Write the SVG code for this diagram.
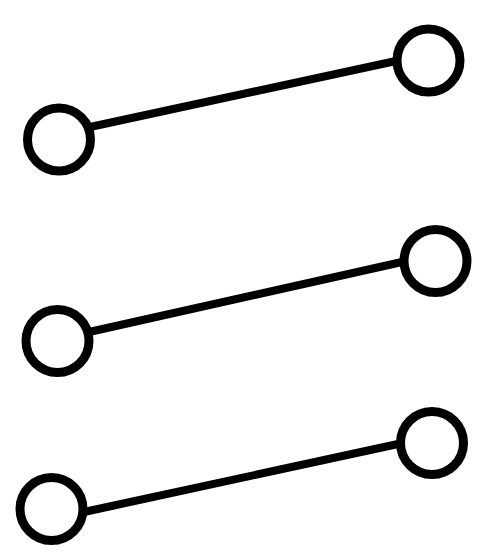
<svg xmlns="http://www.w3.org/2000/svg" width="492" height="559" viewBox="0 0 492 559">
<style>
.n{fill:#fff;stroke:#000;stroke-width:9}
.e{stroke:#000;stroke-width:8;stroke-linecap:round;fill:none}
</style>
<rect width="492" height="559" fill="#fff"/>
<g id="connectors">
<line class="e" x1="90" y1="127" x2="396" y2="61"/>
<line class="e" x1="89" y1="332" x2="402" y2="262"/>
<line class="e" x1="84" y1="512" x2="398" y2="444"/>
</g>
<g id="n1"><circle class="n" cx="59" cy="139.5" r="31.5"/></g>
<g id="n2"><circle class="n" cx="428.5" cy="60.5" r="31.5"/></g>
<g id="n3"><circle class="n" cx="57.5" cy="341" r="31.5"/></g>
<g id="n4"><circle class="n" cx="435.5" cy="261" r="31.5"/></g>
<g id="n5"><circle class="n" cx="51.5" cy="509" r="31.5"/></g>
<g id="n6"><circle class="n" cx="432" cy="443" r="31.5"/></g>
</svg>
